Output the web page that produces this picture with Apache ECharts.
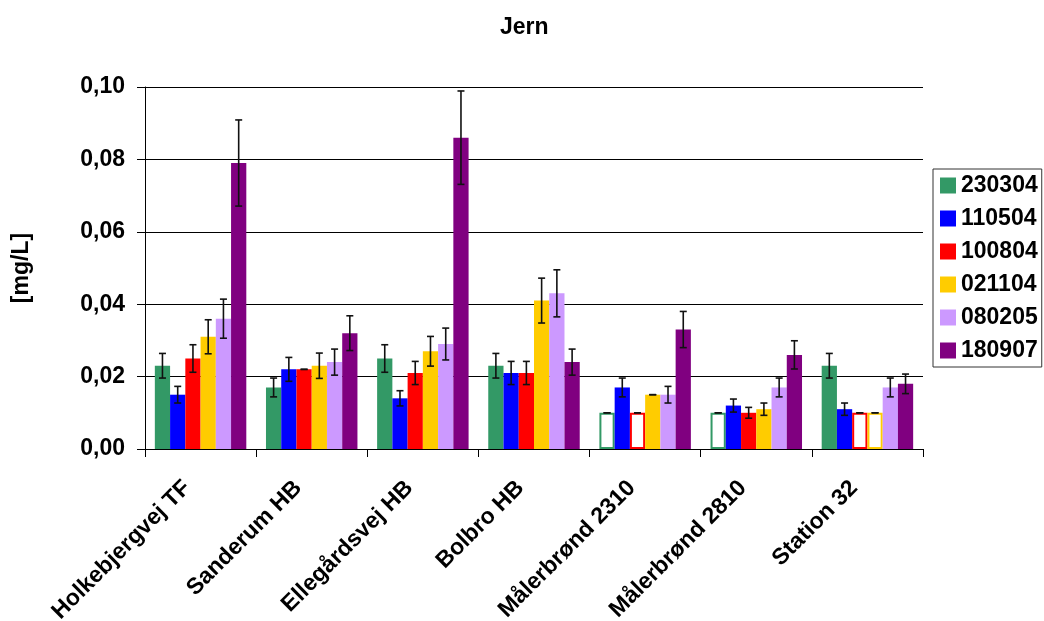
<!DOCTYPE html>
<html><head><meta charset="utf-8">
<script src="https://cdn.jsdelivr.net/npm/echarts@6/dist/echarts.min.js"></script>
<style>html,body{margin:0;padding:0;background:#fff}#c{width:1044px;height:621px}</style>
</head><body><div id="c"></div>
<script>
const categories = ['Holkebjergvej TF','Sanderum HB','Ellegårdsvej HB','Bolbro HB','Målerbrønd 2310','Målerbrønd 2810','Station 32'];
const seriesNames = ['230304','110504','100804','021104','080205','180907'];
const v230304 = [0.023, 0.017, 0.025, 0.023, 0.010, 0.010, 0.023];
const v110504 = [0.015, 0.022, 0.014, 0.021, 0.017, 0.012, 0.011];
const v100804 = [0.025, 0.022, 0.021, 0.021, 0.010, 0.010, 0.010];
const v021104 = [0.031, 0.023, 0.027, 0.041, 0.015, 0.011, 0.010];
const v080205 = [0.036, 0.024, 0.029, 0.043, 0.015, 0.017, 0.017];
const v180907 = [0.079, 0.032, 0.086, 0.024, 0.033, 0.026, 0.018];
const e230304 = [0.0034, 0.0026, 0.0038, 0.0034, 0, 0, 0.0034];
const e110504 = [0.0023, 0.0033, 0.0021, 0.0032, 0.0026, 0.0018, 0.0017];
const e100804 = [0.0038, 0, 0.0032, 0.0032, 0, 0.0015, 0];
const e021104 = [0.0047, 0.0035, 0.0041, 0.0062, 0, 0.0017, 0];
const e080205 = [0.0054, 0.0036, 0.0044, 0.0065, 0.0023, 0.0026, 0.0026];
const e180907 = [0.0119, 0.0048, 0.0129, 0.0036, 0.0050, 0.0039, 0.0027];
const h230304 = [0,0,0,0,1,1,0];
const h110504 = [0,0,0,0,0,0,0];
const h100804 = [0,0,0,0,1,0,1];
const h021104 = [0,0,0,0,0,0,1];
const h080205 = [0,0,0,0,0,0,0];
const h180907 = [0,0,0,0,0,0,0];
const yTicks = ['0,00','0,02','0,04','0,06','0,08','0,10'];

const values = [v230304, v110504, v100804, v021104, v080205, v180907];
const errors = [e230304, e110504, e100804, e021104, e080205, e180907];
const hollow = [h230304, h110504, h100804, h021104, h080205, h180907];
const colors = ['#339966','#0000FF','#FF0000','#FFCC00','#CC99FF','#800080'];
const CAT_GAP = 0.177;
const FONT = 'Liberation Sans, Arial, sans-serif';
const FS = 23;

const barSeries = seriesNames.map((name, s) => ({
  name, type: 'bar', barGap: '0%', barCategoryGap: (CAT_GAP*100)+'%',
  itemStyle: { color: colors[s] },
  data: values[s].map((v, i) => hollow[s][i]
    ? { value: v, itemStyle: { color: '#ffffff', borderColor: colors[s], borderWidth: 2 } }
    : v)
}));

const errData = [];
values.forEach((arr, s) => arr.forEach((v, i) => errData.push([i, s, v, errors[s][i]])));

const errSeries = {
  type: 'custom', name: 'err', z: 10, silent: true,
  encode: { x: 0, y: 2 },
  data: errData,
  renderItem: function (params, api) {
    const ci = api.value(0), s = api.value(1), v = api.value(2), e = api.value(3);
    const c = api.coord([ci, v]);
    const bandW = api.size([1, 0])[0];
    const groupW = bandW * (1 - CAT_GAP);
    const bw = groupW / seriesNames.length;
    const x = c[0] - groupW / 2 + (s + 0.5) * bw;
    const yt = api.coord([ci, v + e])[1];
    const yb = api.coord([ci, v - e])[1];
    const cap = 3.5;
    const st = { stroke: '#111', lineWidth: 1.6 };
    return { type: 'group', children: [
      { type: 'line', shape: { x1: x, y1: yt, x2: x, y2: yb }, style: st },
      { type: 'line', shape: { x1: x - cap, y1: yt, x2: x + cap, y2: yt }, style: st },
      { type: 'line', shape: { x1: x - cap, y1: yb, x2: x + cap, y2: yb }, style: st }
    ]};
  }
};

const chart = echarts.init(document.getElementById('c'), null, { renderer: 'canvas' });
chart.setOption({
  backgroundColor: '#ffffff',
  animation: false,
  title: { text: 'Jern', left: 495, top: 11,
    textStyle: { fontFamily: FONT, fontWeight: 'bold', fontSize: FS, color: '#000' } },
  legend: {
    data: seriesNames, orient: 'vertical', left: 933, top: 169,
    itemWidth: 16, itemHeight: 16, itemGap: 10, icon: 'rect', itemStyle: { borderWidth: 0 },
    padding: [5, 4, 5, 7],
    borderColor: '#333', borderWidth: 1,
    textStyle: { fontFamily: FONT, fontWeight: 'bold', fontSize: FS, color: '#000' }
  },
  grid: { left: 145, right: 121, top: 87, bottom: 172, containLabel: false, outerBoundsMode: 'none' },
  xAxis: {
    type: 'category', data: categories,
    axisLine: { lineStyle: { color: '#000', width: 1 } },
    axisTick: { show: true, length: 8, lineStyle: { color: '#000' } },
    axisLabel: { rotate: 45, margin: 22, interval: 0, padding: [0, 19, 0, 0],
      fontFamily: FONT, fontWeight: 'bold', fontSize: FS, color: '#000' }
  },
  yAxis: {
    type: 'value', min: 0, max: 0.1, interval: 0.02,
    name: '[mg/L]', nameLocation: 'middle', nameRotate: 90, nameGap: 112,
    nameTextStyle: { fontFamily: FONT, fontWeight: 'bold', fontSize: FS, color: '#000' },
    axisLine: { show: true, lineStyle: { color: '#000', width: 1 } },
    axisTick: { show: true, length: 8, lineStyle: { color: '#000' } },
    axisLabel: { margin: 20, fontFamily: FONT, fontWeight: 'bold', fontSize: FS, color: '#000',
      formatter: (val) => yTicks[Math.round(val / 0.02)] },
    splitLine: { show: true, lineStyle: { color: '#000', width: 1 } }
  },
  series: [...barSeries, errSeries]
});
</script></body></html>
